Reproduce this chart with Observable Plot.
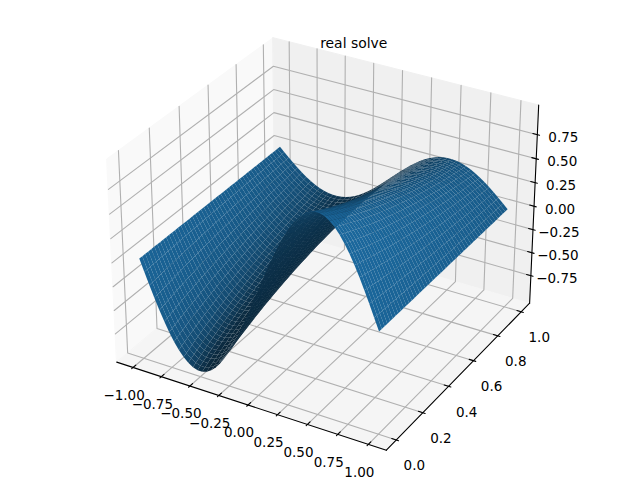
<!DOCTYPE html>
<html><head><meta charset="utf-8">
<script src="https://cdn.jsdelivr.net/npm/d3@7"></script>
<script src="https://cdn.jsdelivr.net/npm/@observablehq/plot@0.6"></script>
<style>html,body{margin:0;padding:0;background:#fff}svg{display:block}</style>
</head><body><div id="chart"></div>
<script>
const title = "real solve";
const xTicks = [-1,-0.75,-0.5,-0.25,0,0.25,0.5,0.75,1];
const xTickLabels = ["−1.00","−0.75","−0.50","−0.25","0.00","0.25","0.50","0.75","1.00"];
const yTicks = [0,0.2,0.4,0.6,0.8,1];
const yTickLabels = ["0.0","0.2","0.4","0.6","0.8","1.0"];
const zTicks = [-0.75,-0.5,-0.25,0,0.25,0.5,0.75];
const zTickLabels = ["−0.75","−0.50","−0.25","0.00","0.25","0.50","0.75"];
const xLim = [-1.1,1.1], yLim = [-0.05,1.05], zLim = [-1.012,1.012];
const surfaceX = [-1,-0.96,-0.92,-0.88,-0.84,-0.8,-0.76,-0.72,-0.68,-0.64,-0.6,-0.56,-0.52,-0.48,-0.44,-0.4,-0.36,-0.32,-0.28,-0.24,-0.2,-0.16,-0.12,-0.08,-0.04,0,0.04,0.08,0.12,0.16,0.2,0.24,0.28,0.32,0.36,0.4,0.44,0.48,0.52,0.56,0.6,0.64,0.68,0.72,0.76,0.8,0.84,0.88,0.92,0.96,1];
const surfaceY = [0,0.02,0.04,0.06,0.08,0.1,0.12,0.14,0.16,0.18,0.2,0.22,0.24,0.26,0.28,0.3,0.32,0.34,0.36,0.38,0.4,0.42,0.44,0.46,0.48,0.5,0.52,0.54,0.56,0.58,0.6,0.62,0.64,0.66,0.68,0.7,0.72,0.74,0.76,0.78,0.8,0.82,0.84,0.86,0.88,0.9,0.92,0.94,0.96,0.98,1];
// height of the front edge (y = 0) at each surfaceX
const frontEdgeZ = [0,-0.125,-0.249,-0.368,-0.482,-0.588,-0.685,-0.771,-0.844,-0.905,-0.951,-0.982,-0.998,-0.998,-0.982,-0.951,-0.905,-0.844,-0.771,-0.685,-0.588,-0.482,-0.368,-0.249,-0.125,0,0.125,0.249,0.368,0.482,0.588,0.685,0.771,0.844,0.905,0.951,0.982,0.998,0.998,0.982,0.951,0.905,0.844,0.771,0.685,0.588,0.482,0.368,0.249,0.125,0];
// how much of that height remains at each surfaceY
const heightRemaining = [1,0.98,0.961,0.942,0.923,0.905,0.887,0.869,0.852,0.835,0.819,0.803,0.787,0.771,0.756,0.741,0.726,0.712,0.698,0.684,0.67,0.657,0.644,0.631,0.619,0.607,0.595,0.583,0.571,0.56,0.549,0.538,0.527,0.517,0.507,0.497,0.487,0.477,0.468,0.458,0.449,0.44,0.432,0.423,0.415,0.407,0.399,0.391,0.383,0.375,0.368];

const el = 30*Math.PI/180, az = -60*Math.PI/180, dist = 10;
const k = 1.8294640721620434/Math.hypot(4,4,3);
const box = [4*k,4*k,3*k];
const R = box.map(b=>b/2);
const dir = [Math.cos(el)*Math.cos(az),Math.cos(el)*Math.sin(az),Math.sin(el)];
const E = R.map((r,i)=>r+dist*dir[i]);
const cross=(a,b)=>[a[1]*b[2]-a[2]*b[1],a[2]*b[0]-a[0]*b[2],a[0]*b[1]-a[1]*b[0]];
const dot=(a,b)=>a[0]*b[0]+a[1]*b[1]+a[2]*b[2];
const unit=a=>{const n=Math.hypot(...a);return a.map(v=>v/n)};
const u = unit(cross([0,0,1],dir)), v = cross(dir,u);
function project(x,y,z){
  const p=[(x-xLim[0])/(xLim[1]-xLim[0])*box[0]-E[0],(y-yLim[0])/(yLim[1]-yLim[0])*box[1]-E[1],(z-zLim[0])/(zLim[1]-zLim[0])*box[2]-E[2]];
  const w=-dot(dir,p);
  return {px:dot(u,p)/w,py:dot(v,p)/w,depth:-w};
}
const pad=a=>{const d=(a[1]-a[0])/48;return [a[0]-d,a[1]+d]};
const [x0,x1]=pad(xLim),[y0,y1]=pad(yLim),[z0,z1]=pad(zLim);
const dx=(xLim[1]-xLim[0])/12,dy=(yLim[1]-yLim[0])/12;

const panes=[
  {id:"x",c:"#f9f9f9",pts:[[x0,y0,z0],[x0,y1,z0],[x0,y1,z1],[x0,y0,z1]]},
  {id:"y",c:"#f0f0f0",pts:[[x0,y1,z0],[x1,y1,z0],[x1,y1,z1],[x0,y1,z1]]},
  {id:"z",c:"#f5f5f5",pts:[[x0,y0,z0],[x1,y0,z0],[x1,y1,z0],[x0,y1,z0]]}
].flatMap(p=>p.pts.map(q=>({id:p.id,c:p.c,...project(...q)})));

const grid=[];
xTicks.forEach((t,i)=>[[t,y0,z0],[t,y1,z0],[t,y1,z1]].forEach(q=>grid.push({id:"x"+i,...project(...q)})));
yTicks.forEach((t,i)=>[[x1,t,z0],[x0,t,z0],[x0,t,z1]].forEach(q=>grid.push({id:"y"+i,...project(...q)})));
zTicks.forEach((t,i)=>[[x0,y0,t],[x0,y1,t],[x1,y1,t]].forEach(q=>grid.push({id:"z"+i,...project(...q)})));

const axes=[[[x0,y0,z0],[x1,y0,z0]],[[x1,y0,z0],[x1,y1,z0]],[[x1,y1,z0],[x1,y1,z1]]]
  .flatMap((s,i)=>s.map(q=>({id:"a"+i,...project(...q)})));
const ticks=[], labels=[];
xTicks.forEach((t,i)=>{[[t,y0+0.2*dy,z0],[t,y0-0.1*dy,z0]].forEach(q=>ticks.push({id:"x"+i,...project(...q)}));
  labels.push({t:xTickLabels[i],a:"x",...project(t,y0,z0)});});
yTicks.forEach((t,i)=>{[[x1-0.2*dx,t,z0],[x1+0.1*dx,t,z0]].forEach(q=>ticks.push({id:"y"+i,...project(...q)}));
  labels.push({t:yTickLabels[i],a:"y",...project(x1,t,z0)});});
zTicks.forEach((t,i)=>{[[x1-0.2*dx,y1,t],[x1+0.1*dx,y1,t]].forEach(q=>ticks.push({id:"z"+i,...project(...q)}));
  labels.push({t:zTickLabels[i],a:"z",...project(x1,y1,t)});});

const light=[-0.6667,-0.6667,0.3333], base=[31,119,180];
const cells=[];
const vert=(i,j)=>[surfaceX[i],surfaceY[j],frontEdgeZ[i]*heightRemaining[j]];
for(let i=0;i<surfaceX.length-1;i++)for(let j=0;j<surfaceY.length-1;j++){
  const a=vert(i,j),b=vert(i+1,j),c=vert(i+1,j+1),d=vert(i,j+1);
  const n=unit(cross([c[0]-a[0],c[1]-a[1],c[2]-a[2]],[d[0]-b[0],d[1]-b[1],d[2]-b[2]]));
  const s=-dot(n,light), f=0.3+0.7*(s+1)/2;
  const pa=project(...a),pb=project(...b),pc=project(...c),pd=project(...d);
  cells.push({pa,pb,pc,pd,depth:(pa.depth+pb.depth+pc.depth+pd.depth)/4,color:`rgb(${base.map(q=>Math.round(q*f)).join(",")})`});
}
cells.sort((p,q)=>d3.ascending(p.depth,q.depth));
const surface=cells.flatMap((c,id)=>[
  {id,x1:c.pa.px,y1:c.pa.py,x2:c.pd.px,y2:c.pd.py,color:c.color},
  {id,x1:c.pb.px,y1:c.pb.py,x2:c.pc.px,y2:c.pc.py,color:c.color}]);

const font="DejaVu Sans";
const chart=Plot.plot({
  width:640,height:480,margin:0,
  style:{background:"#fff"},
  x:{domain:[-0.095,0.09],range:[80,560],axis:null},
  y:{domain:[-0.095,0.09],range:[480,0],axis:null},
  marks:[
    Plot.line(panes,{x:"px",y:"py",z:"id",fill:"c",stroke:"c",strokeWidth:1,curve:"linear-closed"}),
    Plot.line(grid,{x:"px",y:"py",z:"id",stroke:"#b0b0b0",strokeWidth:1.1}),
    Plot.line(axes,{x:"px",y:"py",z:"id",stroke:"#000",strokeWidth:1.1}),
    Plot.line(ticks,{x:"px",y:"py",z:"id",stroke:"#000",strokeWidth:1.1}),
    Plot.area(surface,{x1:"x1",y1:"y1",x2:"x2",y2:"y2",z:"id",fill:"color"}),
    Plot.text(labels.filter(d=>d.a==="x"),{x:"px",y:"py",text:"t",dx:-9,dy:28,fontFamily:font,fontSize:13.5,fill:"#000"}),
    Plot.text(labels.filter(d=>d.a==="y"),{x:"px",y:"py",text:"t",dx:18,dy:26,fontFamily:font,fontSize:13.5,fill:"#000"}),
    Plot.text(labels.filter(d=>d.a==="z"),{x:"px",y:"py",text:"t",dx:26,dy:3,fontFamily:font,fontSize:13.5,fill:"#000"}),
    Plot.text([title],{x:()=>0.0103,y:()=>0.0733,text:d=>d,fontFamily:font,fontSize:13.9,fill:"#000"})
  ]
});
document.getElementById("chart").append(chart);
</script></body></html>
